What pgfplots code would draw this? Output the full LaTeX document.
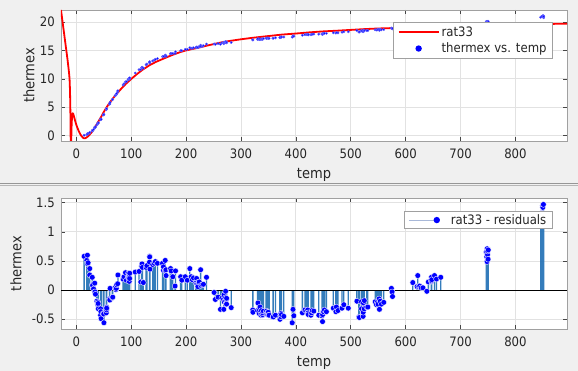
\documentclass[border=0pt]{standalone}
\usepackage{pgfplots}
\pgfplotsset{compat=1.18}
\usepackage{pgfplotstable}
\usepackage{fontspec}
\setmainfont{DejaVu Sans Condensed}
\definecolor{bgc}{RGB}{240,240,240}
\definecolor{txtc}{RGB}{38,38,38}
\definecolor{stemc}{RGB}{31,110,180}
\definecolor{stemleg}{RGB}{168,184,216}
\definecolor{sepc}{RGB}{150,150,150}
\definecolor{boxc}{RGB}{160,160,160}
\definecolor{gridc}{RGB}{226,226,226}
\definecolor{tickc}{RGB}{70,70,70}

\pgfplotstableread{
x y
14.13 0.080
18.97 0.214
20.15 0.367
20.41 0.248
21.46 0.375
24.33 0.471
24.41 0.591
28.78 0.796
28.93 0.943
29.57 0.892
31.30 1.089
33.43 1.504
33.84 1.418
33.91 1.429
34.82 1.547
37.41 1.903
39.12 2.150
39.22 2.204
39.70 2.278
40.03 2.241
44.09 2.902
44.18 2.813
44.66 2.951
45.07 2.894
48.83 3.624
49.87 3.782
50.24 3.697
54.50 4.574
54.98 4.703
55.02 4.765
55.16 4.757
60.41 5.556
60.90 5.602
61.38 5.870
65.51 6.307
66.25 6.421
70.53 7.030
72.08 7.169
72.77 7.267
73.42 7.422
75.25 7.695
75.70 7.898
85.15 8.920
86.84 9.136
89.57 9.470
91.14 9.484
94.33 9.835
94.88 9.959
95.52 9.944
96.40 10.072
96.40 9.957
96.44 10.040
97.06 10.055
97.19 10.163
107.32 11.023
114.26 11.615
117.37 11.600
118.82 11.946
119.63 12.035
120.25 12.005
122.04 11.870
127.08 12.478
128.48 12.596
133.27 12.861
133.55 12.982
133.61 12.970
134.03 12.786
139.08 13.138
141.94 13.303
143.84 13.436
147.73 13.564
156.92 13.922
158.63 13.871
158.67 13.926
161.84 13.994
161.91 14.167
163.19 14.067
163.48 13.974
171.31 14.404
171.65 14.440
172.74 14.452
175.70 14.462
179.86 14.464
180.67 14.755
190.00 14.951
192.11 14.947
198.44 15.168
202.14 15.190
206.76 15.473
209.07 15.379
211.27 15.381
213.32 15.455
217.78 15.483
219.14 15.590
220.55 15.550
221.05 15.528
221.39 15.499
223.26 15.627
223.88 15.639
226.44 15.908
226.86 15.651
229.65 15.746
231.50 15.814
237.12 16.114
250.99 16.131
253.24 16.062
258.27 16.216
262.52 16.075
265.05 16.315
268.01 16.347
268.62 16.181
268.99 16.438
269.44 16.334
271.78 16.430
271.80 16.387
271.97 16.549
273.13 16.337
273.46 16.423
273.66 16.345
273.77 16.445
282.10 16.388
321.31 16.872
321.69 16.830
330.14 16.926
330.90 17.071
333.03 16.907
333.47 16.966
334.61 17.024
336.25 16.915
337.23 17.003
339.15 16.965
339.33 16.978
339.79 17.009
340.77 17.060
345.65 17.122
346.62 17.159
347.19 17.116
348.78 17.164
349.52 17.165
350.13 17.121
351.18 17.123
358.18 17.134
358.72 17.135
362.75 17.206
370.77 17.282
371.03 17.250
372.72 17.368
373.11 17.311
373.79 17.355
377.98 17.349
393.32 17.339
394.77 17.576
396.24 17.483
411.82 17.668
416.59 17.764
419.51 17.767
421.59 17.803
422.02 17.765
422.47 17.768
422.61 17.736
427.38 17.756
428.58 17.808
429.66 17.848
432.68 17.868
441.75 17.858
447.41 17.877
448.53 17.793
448.70 17.912
450.10 17.979
450.35 17.974
451.92 18.007
455.56 17.993
468.22 18.090
472.89 18.046
473.78 18.123
476.69 18.085
484.02 18.185
487.27 18.276
495.47 18.271
511.12 18.490
514.78 18.236
515.65 18.237
519.47 18.523
519.54 18.404
522.47 18.291
522.62 18.357
523.03 18.519
524.43 18.426
524.70 18.566
528.99 18.481
531.08 18.486
544.47 18.627
546.75 18.584
548.75 18.645
549.53 18.610
551.64 18.706
552.22 18.523
553.56 18.669
555.74 18.617
560.11 18.665
574.02 18.924
575.29 18.870
576.00 18.795
612.99 19.133
620.77 19.086
622.05 19.280
623.86 19.100
625.55 19.111
628.34 19.090
631.50 19.101
638.59 19.074
641.36 19.239
646.89 19.324
646.90 19.252
647.04 19.268
647.61 19.286
652.59 19.371
656.20 19.330
663.97 19.398
746.90 20.049
747.35 20.062
747.78 19.972
748.29 19.890
748.43 20.107
749.21 20.007
749.27 20.065
750.14 19.929
750.51 20.088
845.97 20.830
847.54 20.935
848.23 20.935
849.75 21.074
849.93 21.035
850.98 21.085
851.37 20.743
851.61 20.930
}\datatbl

\pgfplotstableread{
x r
14.13 0.58
18.97 0.51
20.15 0.60
20.41 0.45
21.46 0.47
24.33 0.26
24.41 0.37
28.78 0.09
28.93 0.22
29.57 0.08
31.30 0.02
33.43 0.12
33.84 -0.03
33.91 -0.03
34.82 -0.07
37.41 -0.19
39.12 -0.25
39.22 -0.21
39.70 -0.23
40.03 -0.32
44.09 -0.32
44.18 -0.43
44.66 -0.37
45.07 -0.49
48.83 -0.40
49.87 -0.41
50.24 -0.56
54.50 -0.39
54.98 -0.34
55.02 -0.29
55.16 -0.31
60.41 -0.15
60.90 -0.17
61.38 0.03
65.51 -0.13
66.25 -0.12
70.53 0.04
72.08 0.01
72.77 0.03
73.42 0.09
75.25 0.11
75.70 0.26
85.15 0.19
86.84 0.23
89.57 0.30
91.14 0.17
94.33 0.22
94.88 0.29
95.52 0.22
96.40 0.27
96.40 0.15
96.44 0.23
97.06 0.20
97.19 0.29
107.32 0.31
114.26 0.32
117.37 0.14
118.82 0.41
119.63 0.45
120.25 0.39
122.04 0.13
127.08 0.39
128.48 0.42
133.27 0.48
133.55 0.58
133.61 0.57
134.03 0.36
139.08 0.44
141.94 0.46
143.84 0.49
147.73 0.46
156.92 0.46
158.63 0.34
158.67 0.40
161.84 0.34
161.91 0.51
163.19 0.35
163.48 0.25
171.31 0.35
171.65 0.37
172.74 0.33
175.70 0.23
179.86 0.07
180.67 0.33
190.00 0.23
192.11 0.17
198.44 0.23
202.14 0.17
206.76 0.37
209.07 0.23
211.27 0.18
213.32 0.21
217.78 0.13
219.14 0.20
220.55 0.13
221.05 0.10
221.39 0.06
223.26 0.14
223.88 0.14
226.44 0.35
226.86 0.08
229.65 0.09
231.50 0.10
237.12 0.22
250.99 -0.04
253.24 -0.16
258.27 -0.12
262.52 -0.33
265.05 -0.14
268.01 -0.16
268.62 -0.33
268.99 -0.08
269.44 -0.20
271.78 -0.13
271.80 -0.18
271.97 -0.02
273.13 -0.24
273.46 -0.16
273.66 -0.24
273.77 -0.14
282.10 -0.30
321.31 -0.34
321.69 -0.38
330.14 -0.35
330.90 -0.22
333.03 -0.40
333.47 -0.34
334.61 -0.29
336.25 -0.43
337.23 -0.35
339.15 -0.43
339.33 -0.42
339.79 -0.39
340.77 -0.36
345.65 -0.38
346.62 -0.36
347.19 -0.41
348.78 -0.38
349.52 -0.38
350.13 -0.43
351.18 -0.43
358.18 -0.46
358.72 -0.46
362.75 -0.43
370.77 -0.46
371.03 -0.50
372.72 -0.40
373.11 -0.46
373.79 -0.42
377.98 -0.45
393.32 -0.56
394.77 -0.33
396.24 -0.44
411.82 -0.39
416.59 -0.34
419.51 -0.36
421.59 -0.34
422.02 -0.39
422.47 -0.39
422.61 -0.42
427.38 -0.43
428.58 -0.39
429.66 -0.35
432.68 -0.36
441.75 -0.43
447.41 -0.44
448.53 -0.54
448.70 -0.42
450.10 -0.36
450.35 -0.37
451.92 -0.34
455.56 -0.37
468.22 -0.31
472.89 -0.37
473.78 -0.29
476.69 -0.35
484.02 -0.31
487.27 -0.25
495.47 -0.31
511.12 -0.19
514.78 -0.46
515.65 -0.47
519.47 -0.20
519.54 -0.32
522.47 -0.45
522.62 -0.38
523.03 -0.22
524.43 -0.32
524.70 -0.18
528.99 -0.29
531.08 -0.29
544.47 -0.20
546.75 -0.25
548.75 -0.20
549.53 -0.24
551.64 -0.15
552.22 -0.33
553.56 -0.19
555.74 -0.24
560.11 -0.21
574.02 0.03
575.29 -0.03
576.00 -0.11
612.99 0.13
620.77 0.06
622.05 0.25
623.86 0.06
625.55 0.07
628.34 0.04
631.50 0.04
638.59 -0.02
641.36 0.14
646.89 0.22
646.90 0.15
647.04 0.16
647.61 0.18
652.59 0.25
656.20 0.19
663.97 0.22
746.90 0.65
747.35 0.66
747.78 0.57
748.29 0.49
748.43 0.71
749.21 0.61
749.27 0.67
750.14 0.53
750.51 0.69
845.97 1.21
847.54 1.32
848.23 1.32
849.75 1.45
849.93 1.42
850.98 1.47
851.37 1.12
851.61 1.31
}\restbl

\pgfplotsset{
  mybase/.style={
    scale only axis,
    width=506pt,
    xmin=-28, xmax=894,
    xtick={0,100,...,800},
    axis background/.style={fill=white},
    axis line style={draw=boxc},
    grid=major,
    grid style={draw=gridc, line width=0.8pt},
    major tick length=4pt,
    tick style={draw=tickc, line width=0.6pt},
    tick align=inside,
    /pgf/number format/assume math mode=true,
    ticklabel style={font=\fontsize{13}{15}\selectfont, text=txtc, inner sep=0pt},
    yticklabel shift=6pt,
    xticklabel shift=8pt,
    label style={font=\fontsize{14.5}{17}\selectfont, text=txtc, inner sep=0pt},
    xlabel style={at={(axis description cs:0.5,0)}, anchor=north, yshift=-27pt},
    legend style={font=\fontsize{13}{15}\selectfont, text=txtc, draw=boxc, fill=white, line width=0.8pt, cells={anchor=west}},
  }
}

\begin{document}
\begin{tikzpicture}[x=1pt,y=1pt]
\useasboundingbox (0,0) rectangle (578,371);
\fill[bgc] (0,0) rectangle (578,371);
\draw[sepc, line width=1pt] (0,187) -- (578,187);
\draw[sepc!70!white, line width=1pt] (0,185) -- (578,185);

\begin{axis}[mybase,
  at={(61pt,230pt)}, anchor=south west,
  height=131pt,
  ymin=-0.93, ymax=22.1,
  ytick={0,5,10,15,20},
  xlabel={temp}, ylabel={thermex},
  ylabel style={at={(axis description cs:-0.0632,0.5)}, anchor=center},
  reverse legend,
  legend style={at={(0.9723,0.906)}, anchor=north east, inner xsep=4pt, inner ysep=2pt, row sep=1pt},
]
\addplot[blue, only marks, mark=*, mark size=1.2pt, mark options={fill=blue, draw=blue!60!white, line width=0.4pt},
  legend image code/.code={\path[draw=none] (0pt,0pt) -- (40pt,0pt); \fill[blue, draw=none] (20pt,0pt) circle (3.2pt);}]
  table[x=x, y=y] {\datatbl};
\addlegendentry{thermex vs. temp}
\addplot[red, line width=1.8pt, line join=round,
  legend image code/.code={\draw[red, line width=1.8pt] (0pt,0pt) -- (40pt,0pt);}]
  coordinates {(-28,22.1) (-25,19.9) (-22,17.7) (-19,15.5) (-16,13.3) (-13.5,11.2) (-12.4,10) (-11.6,8) (-11.0,5) (-10.5,1) (-10.1,-5) (-9.7,-5) (-9.4,-1.5) (-9.0,0.8) (-8.5,2.2) (-8.0,3.1) (-7.3,3.75) (-6.6,3.95) (-5.8,3.85) (-5,3.6) (-4,3.25) (-3,2.9) (-2,2.55) (-1,2.2) (0,1.9) (1.5,1.5) (3,1.12) (4.5,0.78) (6,0.48) (7.5,0.2) (9,-0.02) (10.5,-0.2) (12,-0.35) (13.5,-0.44) (15,-0.46) (16.5,-0.42) (18,-0.34) (19.5,-0.25) (21,-0.12) (22.5,0.02) (24,0.17) (26,0.38) (28,0.62) (30,0.9) (32,1.2) (34,1.5) (37,1.98) (40,2.48) (43,2.97) (46,3.46) (50,4.18) (55,4.98) (60,5.7) (66,6.48) (72,7.18) (80,8.08) (90,9.1) (100,9.98) (110,10.8) (120,11.55) (133,12.38) (145,12.98) (160,13.6) (175,14.2) (190,14.72) (200,15.0) (220,15.42) (240,15.88) (260,16.32) (280,16.67) (300,16.95) (320,17.2) (350,17.52) (375,17.78) (400,17.96) (425,18.17) (450,18.34) (475,18.46) (500,18.6) (525,18.74) (550,18.85) (575,18.92) (600,18.98) (625,19.05) (650,19.12) (700,19.28) (750,19.41) (800,19.54) (850,19.63) (894,19.7)};
\addlegendentry{rat33}
\end{axis}

\begin{axis}[mybase,
  at={(61pt,42pt)}, anchor=south west,
  height=130.7pt,
  ymin=-0.667, ymax=1.576,
  ytick={-0.5,0,0.5,1,1.5},
  yticklabel style={/pgf/number format/fixed},
  xlabel={temp}, ylabel={thermex},
  ylabel style={at={(axis description cs:-0.0889,0.5)}, anchor=center},
  legend style={at={(0.9717,0.903)}, anchor=north east, inner xsep=4pt, inner ysep=1pt},
]
\addplot[ybar, bar width=1.3pt, fill=stemc, fill opacity=0.9, draw=none, forget plot]
  table[x=x, y=r] {\restbl};
\addplot[black, line width=1pt, forget plot] coordinates {(-28,0) (894,0)};
\addplot[blue, only marks, mark=*, mark size=2.9pt, mark options={fill=blue, draw=white, line width=0.35pt},
  legend image code/.code={\draw[stemleg, line width=1pt] (0pt,0pt) -- (28pt,0pt); \fill[blue, draw=none] (28pt,0pt) circle (3.2pt); \path[draw=none] (0pt,0pt) -- (40pt,0pt);}]
  table[x=x, y=r] {\restbl};
\addlegendentry{rat33 - residuals}
\end{axis}
\end{tikzpicture}
\end{document}
